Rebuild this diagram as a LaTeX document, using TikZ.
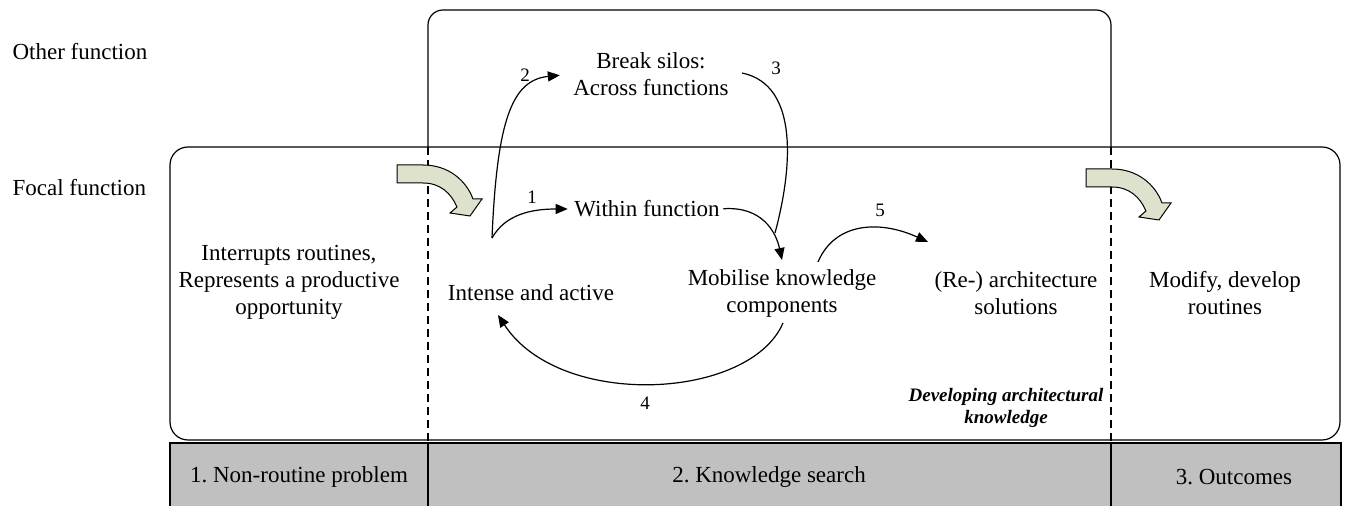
\documentclass[tikz,border=0pt]{standalone}
\usepackage{fontspec}
\setmainfont{Liberation Serif}
\usetikzlibrary{arrows.meta}
\definecolor{barfill}{RGB}{192,192,192}
\definecolor{bentfill}{RGB}{221,226,204}
\frenchspacing

\begin{document}
\begin{tikzpicture}[x=0.5pt,y=-0.5pt,line width=0.6pt,
  txt/.style={font=\fontsize{11.5}{13.5}\selectfont,align=center,inner sep=0pt},
  num/.style={font=\fontsize{9.5}{11}\selectfont,inner sep=0pt},
  >={Triangle[length=6pt,width=5pt]}]
\useasboundingbox (0,0) rectangle (1345,506);
%\draw[step=50,gray,very thin] (0,0) grid (1345,506);
% the two rows
\draw[rounded corners=7.5pt] (428,147) -- (428,10) -- (1111,10) -- (1111,147);
\draw[rounded corners=9pt] (170,147) rectangle (1340,440);
\draw[dash pattern=on 4pt off 2.5pt] (428,147) -- (428,443);
\draw[dash pattern=on 4pt off 2.5pt] (1111,147) -- (1111,443);
% phases bar
\fill[barfill] (170,443) rectangle (1341,506);
\draw (170,506) -- (170,443) -- (1341,443) -- (1341,506);
\draw (428,443) -- (428,506);
\draw (1111,443) -- (1111,506);
% bent arrows
\foreach \dx/\dy in {0/0,689/4}
  \draw[fill=bentfill,line width=0.5pt,shift={(\dx,\dy)}] (397,165) -- (423,165)
    .. controls (448,165) and (466,180) .. (473,199) -- (482,199) -- (470,216)
    -- (450,213) -- (457,207) .. controls (451,193) and (440,183) .. (423,183)
    -- (397,183) -- cycle;

\node[txt,anchor=west] (other) at (12,52) {Other function};
\node[txt,anchor=west] (focal) at (12,188) {Focal function};
\node[txt] (silos) at (651,74) {Break silos:\\Across functions};
\node[txt] (within) at (647,209) {Within function};
\node[txt] (interrupt) at (289,282) {Interrupts routines,\\Represents a productive\\opportunity};
\node[txt] (intense) at (531,293) {Intense and active};
\node[txt] (mobilise) at (782,293) {Mobilise knowledge\\components};
\node[txt] (rearch) at (1016,293) {(Re-) architecture\\solutions};
\node[txt] (modify) at (1225,293) {Modify, develop\\routines};
\node[font=\bfseries\itshape\fontsize{9.5}{11}\selectfont,align=center,inner sep=0pt] (devarch) at (1006,408) {Developing architectural\\knowledge};

\node[txt] (phase1) at (299,477) {1. Non-routine problem};
\node[txt] (phase2) at (769,477) {2. Knowledge search};
\node[txt] (phase3) at (1234,477) {3. Outcomes};

% arrow ends
\coordinate (start) at (492,238);
\coordinate (s3) at (742,73);
\coordinate (e3) at (775,233);
\coordinate (min) at (782,260);
\coordinate (mout) at (818,262);
\coordinate (rin) at (928,242);
\coordinate (mback) at (783,323);
\coordinate (iin) at (498,315);

\draw[->,shorten >=3pt] (start) .. controls (505,215) and (530,209) .. (within.west);
\draw[->,shorten >=6.5pt] (start) .. controls (497,120) and (512,80) .. (silos.west);
\draw (s3) .. controls (800,85) and (792,170) .. (e3);
\draw[->,shorten <=1.5pt] (within.east) .. controls (762,206) and (776,232) .. (min);
\draw[->] (mout) .. controls (835,222) and (880,220) .. (rin);
\draw[->] (mback) .. controls (750,400) and (560,410) .. (iin);

\node[num] (n1) at (532,197) {1};
\node[num] (n2) at (525,75) {2};
\node[num] (n3) at (776,68) {3};
\node[num] (n4) at (645,403) {4};
\node[num] (n5) at (880,210) {5};
\end{tikzpicture}
\end{document}
